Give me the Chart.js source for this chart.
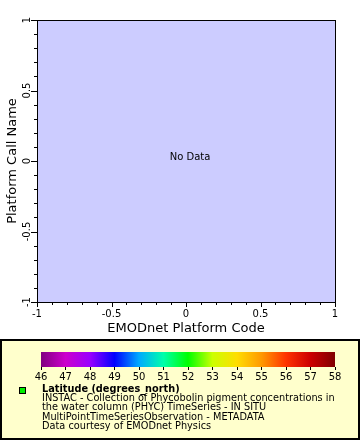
<!DOCTYPE html>
<html>
<head>
<meta charset="utf-8">
<script src="https://cdn.jsdelivr.net/npm/chart.js@4.4.1/dist/chart.umd.min.js"></script>
<style>
    body { margin: 0; background: #fff; width: 360px; height: 440px; overflow: hidden; position: relative; font-family: "DejaVu Sans", sans-serif; }
    #main { position: absolute; left: 0; top: 0; }
    #legend-box { position: absolute; left: 0; top: 339px; width: 360px; height: 101px; box-sizing: border-box; border: 2px solid #000; background: #ffffcc; }
    #bar { position: absolute; left: 0; top: 340px; }
    #swatch { position: absolute; left: 19px; top: 387px; width: 5px; height: 5px; border: 1px solid #000; background: #00ee00; }
    #legend-text { position: absolute; left: 42px; top: 384px; font-size: 9.75px; line-height: 9.2px; color: #000; white-space: nowrap; }
    #legend-text b { font-weight: bold; }
</style>
</head>
<body>
<canvas id="main" width="360" height="337"></canvas>
<div id="legend-box"></div>
<canvas id="bar" width="360" height="50"></canvas>
<div id="swatch"></div>
<div id="legend-text"></div>

<script>
// 坐标轴范围与刻度
const xRange = [-1, 1];
const yRange = [-1, 1];
const majorTicks = [-1, -0.5, 0, 0.5, 1];
const tickLabels = ['-1', '-0.5', '0', '0.5', '1'];
const minorStep = 0.1;

// 没有数据点
const points = [];

// 色标
const scaleValues = [46, 47, 48, 49, 50, 51, 52, 53, 54, 55, 56, 57, 58];
const scaleColors = ['#800080', '#cc00cc', '#9900ff', '#0000ff', '#00aaff', '#00ffaa', '#00ff00',
                     '#ccff00', '#ffdd00', '#ff9900', '#ff3300', '#cc0000', '#800000'];

// 图例文字
const legendLines = [
    'Latitude (degrees_north)',
    'INSTAC - Collection of Phycobolin pigment concentrations in',
    'the water column (PHYC) TimeSeries - IN SITU',
    'MultiPointTimeSeriesObservation - METADATA',
    'Data courtesy of EMODnet Physics'
];

const font = '"DejaVu Sans", sans-serif';

// 画背景、边框、刻度和 No Data
const framePlugin = {
    id: 'frame',
    beforeDraw(chart) {
        const a = chart.chartArea;
        const ctx = chart.ctx;
        ctx.save();
        ctx.fillStyle = '#ccccff';
        ctx.fillRect(a.left, a.top, a.right - a.left, a.bottom - a.top);
        ctx.restore();
    },
    afterDraw(chart) {
        const a = chart.chartArea;
        const ctx = chart.ctx;
        const xs = chart.scales.x;
        const ys = chart.scales.y;
        ctx.save();
        ctx.strokeStyle = '#000';
        ctx.lineWidth = 1;
        ctx.strokeRect(Math.round(a.left) + 0.5, Math.round(a.top) + 0.5,
                       Math.round(a.right - a.left), Math.round(a.bottom - a.top));

        // 小刻度 + 大刻度
        const n = Math.round((xRange[1] - xRange[0]) / minorStep);
        ctx.beginPath();
        for (let i = 0; i <= n; i++) {
            const v = xRange[0] + i * minorStep;
            const major = majorTicks.some(t => Math.abs(t - v) < 1e-9);
            const len = major ? 5 : 3;
            const px = Math.round(xs.getPixelForValue(v)) + 0.5;
            ctx.moveTo(px, Math.round(a.bottom));
            ctx.lineTo(px, Math.round(a.bottom) + len);
            const py = Math.round(ys.getPixelForValue(yRange[0] + i * minorStep)) + 0.5;
            ctx.moveTo(Math.round(a.left), py);
            ctx.lineTo(Math.round(a.left) - (major ? 6 : 3), py);
        }
        ctx.stroke();

        // 刻度文字
        ctx.fillStyle = '#000';
        ctx.font = '10px ' + font;
        ctx.textAlign = 'center';
        ctx.textBaseline = 'middle';
        majorTicks.forEach((t, i) => {
            ctx.fillText(tickLabels[i], xs.getPixelForValue(t), a.bottom + 12);
            ctx.save();
            ctx.translate(a.left - 10, ys.getPixelForValue(t));
            ctx.rotate(-Math.PI / 2);
            ctx.fillText(tickLabels[i], 0, 0);
            ctx.restore();
        });

        if (points.length === 0) {
            ctx.fillText('No Data', (a.left + a.right) / 2 + 4, (a.top + a.bottom) / 2 - 4);
        }
        ctx.restore();
    }
};

new Chart(document.getElementById('main').getContext('2d'), {
    type: 'scatter',
    data: { datasets: [{ data: points }] },
    options: {
        responsive: false,
        animation: false,
        layout: { padding: { top: 20, right: 25, left: 0, bottom: 0 } },
        plugins: { legend: { display: false }, tooltip: { enabled: false } },
        scales: {
            x: {
                min: xRange[0], max: xRange[1],
                ticks: { display: false },
                grid: { display: false },
                border: { display: false },
                title: { display: true, text: 'EMODnet Platform Code', color: '#000',
                         font: { family: font, size: 13 }, padding: { top: 0, bottom: 1 } },
                afterFit(s) { s.height = 35; }
            },
            y: {
                min: yRange[0], max: yRange[1],
                ticks: { display: false },
                grid: { display: false },
                border: { display: false },
                title: { display: true, text: 'Platform Call Name', color: '#000',
                         font: { family: font, size: 13 }, padding: { top: 5, bottom: 0 } },
                afterFit(s) { s.width = 37; }
            }
        }
    },
    plugins: [framePlugin]
});

// 色标条
const gradientPlugin = {
    id: 'gradient',
    beforeDraw(chart) {
        const a = chart.chartArea;
        const xs = chart.scales.x;
        const ctx = chart.ctx;
        const g = ctx.createLinearGradient(a.left, 0, a.right, 0);
        scaleValues.forEach((v, i) => {
            g.addColorStop((xs.getPixelForValue(v) - a.left) / (a.right - a.left), scaleColors[i]);
        });
        ctx.save();
        ctx.fillStyle = g;
        ctx.fillRect(a.left, a.top, a.right - a.left, a.bottom - a.top);
        ctx.restore();
    }
};

new Chart(document.getElementById('bar').getContext('2d'), {
    type: 'scatter',
    data: { datasets: [{ data: [] }] },
    options: {
        responsive: false,
        animation: false,
        layout: { padding: { top: 12, right: 25, left: 41, bottom: 0 } },
        plugins: { legend: { display: false }, tooltip: { enabled: false } },
        scales: {
            x: {
                min: scaleValues[0], max: scaleValues[scaleValues.length - 1],
                ticks: { stepSize: 1, color: '#000', font: { family: font, size: 10 }, padding: 1, maxRotation: 0, autoSkip: false },
                grid: { drawOnChartArea: false, drawTicks: true, tickLength: 3, color: '#000' },
                border: { display: false },
                afterFit(s) { s.height = 23; }
            },
            y: { display: false, min: 0, max: 1 }
        }
    },
    plugins: [gradientPlugin]
});

// 图例文字
document.getElementById('legend-text').innerHTML = legendLines
    .map((t, i) => i === 0 ? '<b>' + t + '</b>' : t)
    .join('<br>');
</script>
</body>
</html>
